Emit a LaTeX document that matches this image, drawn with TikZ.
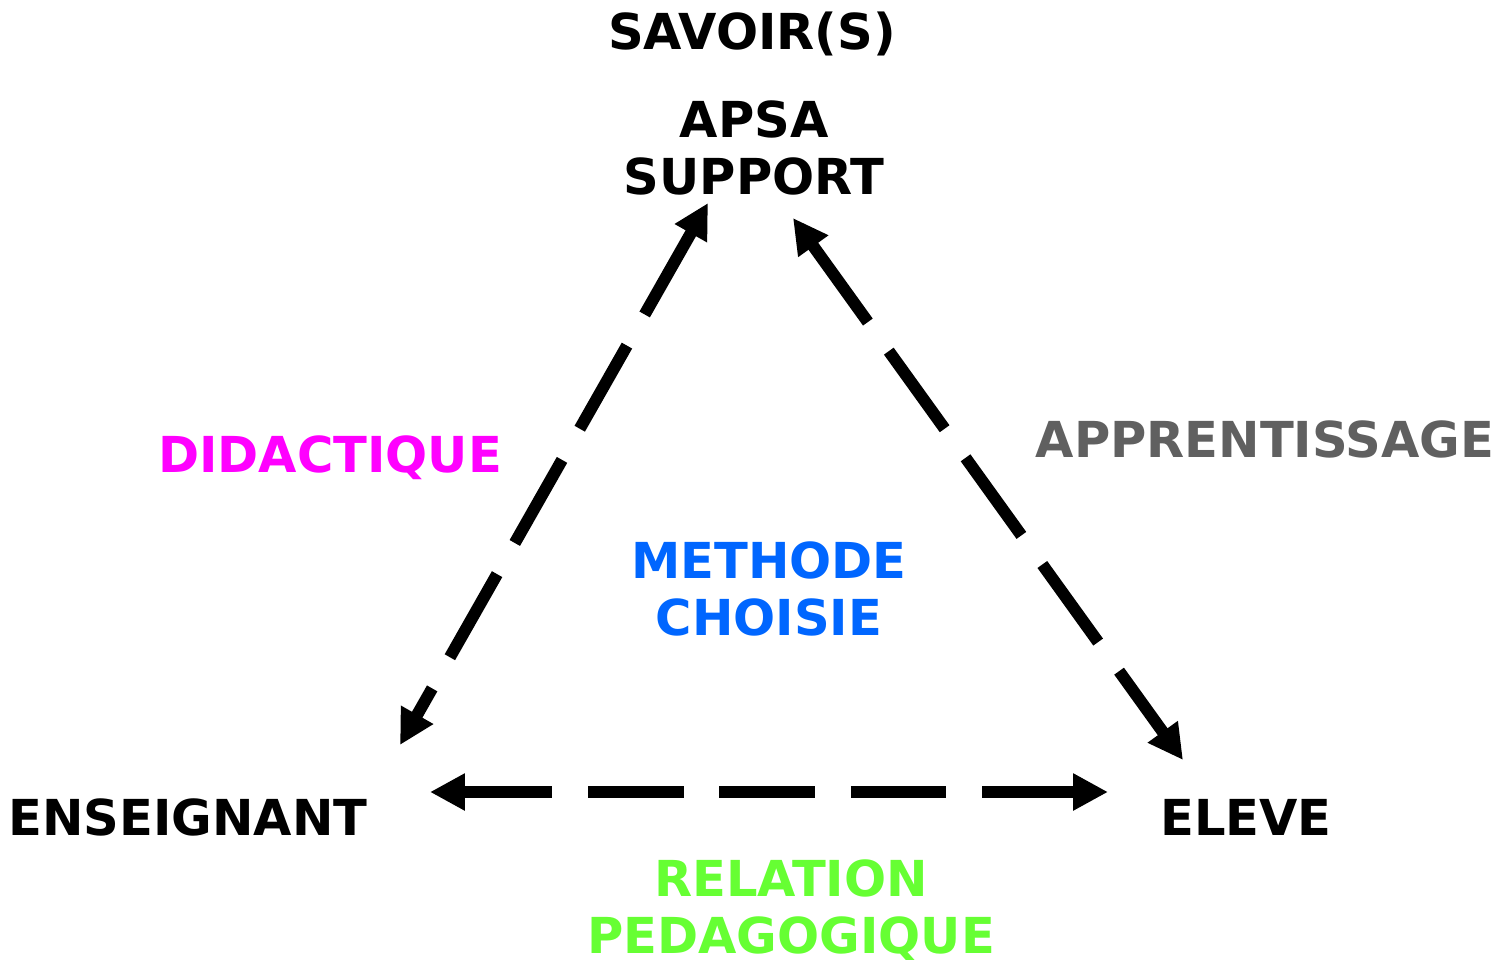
\documentclass[tikz,border=0pt]{standalone}
\usepackage{fontspec}
\setmainfont{DejaVu Sans}
\usepackage{xcolor}
\usepackage{tikz}
\usetikzlibrary{arrows.meta}
\definecolor{didac}{HTML}{FF00FF}
\definecolor{appren}{HTML}{606060}
\definecolor{methode}{HTML}{0066FF}
\definecolor{relation}{HTML}{66FF33}
\tikzset{
  pole/.style={font=\bfseries\fontsize{28.2pt}{32.3pt}\selectfont, inner sep=0pt, anchor=base, align=center},
  lien/.style={line width=6.8pt, dash pattern=on 54.4pt off 20.4pt, {Triangle[length=19.8pt,width=19.8pt]}-{Triangle[length=19.8pt,width=19.8pt]}}
}

\begin{document}
\begin{tikzpicture}[x=0.02cm, y=-0.02cm]
                \useasboundingbox (0,0) rectangle (1498,960);

                % Draw the three poles
                \node[pole] (savoir) at (752,50) {SAVOIR(S)};
                \node[pole] (apsa) at (754,194) {APSA\\SUPPORT};
                \node[pole] (ens) at (188,835) {ENSEIGNANT};
                \node[pole] (eleve) at (1246,835) {ELEVE};

                % Draw the labels of the relations
                \node[pole, text=didac] (didac) at (330,472) {DIDACTIQUE};
                \node[pole, text=appren] (appren) at (1265,457) {APPRENTISSAGE};
                \node[pole, text=methode] (methode) at (769,635) {METHODE\\CHOISIE};
                \node[pole, text=relation] (relation) at (791,953) {RELATION\\PEDAGOGIQUE};

                % Ends of the dashed arrows
                \coordinate (haut-g) at (708,203);
                \coordinate (haut-d) at (793,218);
                \coordinate (ens-h) at (400,745);
                \coordinate (ens-d) at (430,792);
                \coordinate (eleve-h) at (1183,760);
                \coordinate (eleve-g) at (1108,792);

                % Draw the dashed arrows
                \draw[lien] (haut-g) -- (ens-h);
                \draw[lien] (haut-d) -- (eleve-h);
                \draw[lien, dash phase=3.4pt] (ens-d) -- (eleve-g);
            \end{tikzpicture}
\end{document}
